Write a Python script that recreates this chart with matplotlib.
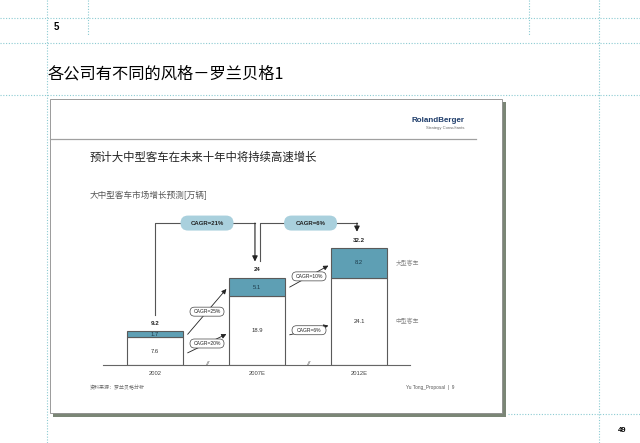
import matplotlib
matplotlib.use("Agg")
import matplotlib.pyplot as plt
from matplotlib.patches import Rectangle, FancyBboxPatch

CJK = ["Noto Sans CJK SC", "DejaVu Sans"]
LAT = ["Liberation Sans", "DejaVu Sans"]

# ── data ─────────────────────────────────────────────
years = ["2002", "2007E", "2012E"]
medium = [7.6, 18.9, 24.1]          # 中型客车
large = [1.7, 5.1, 8.2]             # 大型客车
totals = [9.2, 24, 32.2]
total_labels = ["9.2", "24", "32.2"]
overall_cagr = ["CAGR=21%", "CAGR=6%"]
large_cagr = ["CAGR=25%", "CAGR=10%"]
medium_cagr = ["CAGR=20%", "CAGR=6%"]
series_names = ["大型客车", "中型客车"]

BLUE = "#5e9fb4"
PILL = "#a9d0dd"
EDGE = "#5a5a5a"

W, H = 640, 443
fig = plt.figure(figsize=(W / 100, H / 100), dpi=100)

# ── page layer in pixel coords ───────────────────────
page = fig.add_axes([0, 0, 1, 1])
page.set_xlim(0, W)
page.set_ylim(H, 0)
page.axis("off")

guide = dict(color="#8ccbd2", lw=0.8, ls=(0, (1, 1.5)), zorder=0)
for y in (18, 43, 95):
    page.plot([0, W], [y, y], **guide)
page.plot([508, W], [414, 414], **guide)
page.plot([47, 47], [0, H], **guide)
page.plot([599, 599], [0, H], **guide)
page.plot([88, 88], [0, 36], **guide)
page.plot([529, 529], [0, 36], **guide)

page.text(54, 27, "5", fontsize=7, fontweight="bold", family=LAT, va="center")
page.text(48, 74, "各公司有不同的风格－罗兰贝格1", fontsize=11.7, family=CJK,
          va="center")
page.text(622, 431, "49", fontsize=5.5, fontweight="bold", family=LAT,
          va="center", ha="center")

# slide box with shadow
page.add_patch(Rectangle((53, 102), 453, 315, fc="#7b8676", ec="none", zorder=1))
page.add_patch(Rectangle((50, 99), 452, 314, fc="white", ec="#8a8a8a", lw=0.6,
                         zorder=2))
page.plot([50, 476], [139, 139], color="#a0a0a0", lw=0.9, zorder=3)

page.text(465, 120, "RolandBerger", fontsize=5.8, fontweight="bold",
          family=LAT, color="#1f3d6b", ha="right", va="center", zorder=3)
page.text(465, 127.5, "Strategy Consultants", fontsize=3, family=LAT,
          color="#666", ha="right", va="center", zorder=3)
page.text(90, 157, "预计大中型客车在未来十年中将持续高速增长", fontsize=8.2,
          family=CJK, color="#222", va="center", zorder=3)
page.text(90, 195, "大中型客车市场增长预测[万辆]", fontsize=6.2, family=CJK,
          color="#555", va="center", zorder=3)
page.text(90, 387, "资料来源：罗兰贝格分析", fontsize=3.6, family=CJK,
          color="#666", va="center", zorder=3)
page.text(406, 387, "Yu Tong_Proposal  |  9", fontsize=3.4, family=LAT,
          color="#555", va="center", zorder=3)

# ── chart axes ───────────────────────────────────────
X0, X1, YB, YT = 103, 410, 365, 200
XPX = 102.0        # px per category step
YPX = 3.63         # px per unit
ax = fig.add_axes([X0 / W, (H - YB) / H, (X1 - X0) / W, (YB - YT) / H])
ax.set_xlim(-(155 - X0) / XPX, (X1 - 155) / XPX)
ax.set_ylim(0, (YB - YT) / YPX)
ax.patch.set_visible(False)
for s in ("top", "left", "right"):
    ax.spines[s].set_visible(False)
ax.spines["bottom"].set_color("#666")
ax.spines["bottom"].set_linewidth(0.8)
ax.set_yticks([])

xs = list(range(len(years)))
ax.bar(xs, medium, width=0.55, color="white", edgecolor=EDGE, lw=0.8, zorder=2)
ax.bar(xs, large, bottom=medium, width=0.55, color=BLUE, edgecolor=EDGE,
       lw=0.8, zorder=2)
ax.set_xticks(xs, years)
ax.tick_params(axis="x", length=0, pad=4, labelsize=4.2, labelcolor="#444")
for lab in ax.get_xticklabels():
    lab.set_family(LAT)

for i in xs:
    ax.text(i, medium[i] / 2, f"{medium[i]}", ha="center", va="center",
            fontsize=4.2, family=LAT, color="#333", zorder=3)
    ax.text(i, medium[i] + large[i] / 2, f"{large[i]}", ha="center",
            va="center", fontsize=4.2, family=LAT, color="#1d3b4a", zorder=3)
    ax.text(i, totals[i] + 2.2, total_labels[i], ha="center", va="center",
            fontsize=4.4, fontweight="bold", family=LAT, color="#222")

ax.text(2.36, medium[2] + large[2] / 2, series_names[0], fontsize=4.2,
        family=CJK, color="#888", va="center")
ax.text(2.36, medium[2] / 2, series_names[1], fontsize=4.2, family=CJK,
        color="#888", va="center")

for bx in (0.51, 1.5):
    ax.text(bx, 0, "//", ha="center", va="center", fontsize=5, family=LAT,
            color="#666", style="italic", clip_on=False)


def pill(cx, cy, w_px, h_px, text, fc, ec, fs, bold):
    w, h = w_px / XPX, h_px / YPX
    r = (h_px / 2) / XPX
    ax.add_patch(FancyBboxPatch((cx - w / 2, cy - h / 2), w, h,
                                boxstyle=f"round,pad=0,rounding_size={r}",
                                mutation_aspect=XPX / YPX, fc=fc, ec=ec,
                                lw=0.5, clip_on=False, zorder=5))
    ax.text(cx, cy, text, ha="center", va="center", fontsize=fs, family=LAT,
            fontweight="bold" if bold else "normal", color="#222", zorder=6)


def arrow(x0, y0, x1, y1, lw=0.6, ms=7):
    ax.annotate("", xy=(x1, y1), xytext=(x0, y0), annotation_clip=False,
                arrowprops=dict(arrowstyle="-|>", color="#222", lw=lw,
                                mutation_scale=ms, shrinkA=0, shrinkB=0),
                zorder=4)


# overall CAGR connectors
level = 39.1
for i in range(len(overall_cagr)):
    x0 = i + (0.03 if i else 0.0)
    x1 = i + 0.98
    y0 = totals[i] + 4.6
    ax.plot([x0, x0, x1], [y0, level, level], color="#555", lw=0.8,
            clip_on=False, zorder=3)
    arrow(x1, level, x1, totals[i + 1] + 4.5, lw=0.8, ms=8)
    pill((x0 + x1) / 2 + 0.02, level, 53, 15, overall_cagr[i], PILL, "none",
         4.3, True)

# segment CAGR arrows
for i in range(len(large_cagr)):
    sx, ex = i + 0.32, i + 0.70
    sy = medium[i] + 0.5 * large[i]
    ey = medium[i + 1] + 0.4 * large[i + 1]
    arrow(sx, sy, ex, ey)
    pill((sx + ex) / 2, (sy + ey) / 2, 34, 9, large_cagr[i], "white", "#444",
         3.6, False)

    sy = 0.44 * medium[i]
    ey = 0.45 * medium[i + 1]
    arrow(sx, sy, ex, ey)
    pill((sx + ex) / 2, (sy + ey) / 2, 34, 9, medium_cagr[i], "white", "#444",
         3.6, False)

fig.savefig("out.png", dpi=100, facecolor="white")
